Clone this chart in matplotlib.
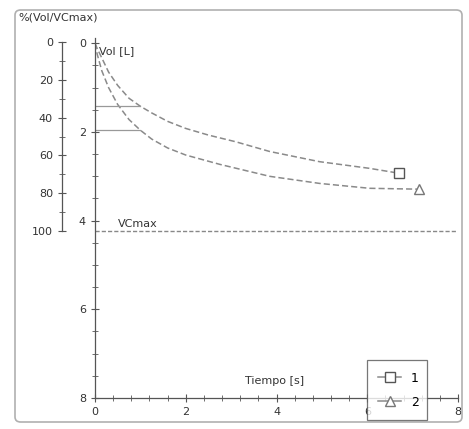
import matplotlib
matplotlib.use("Agg")
import matplotlib.pyplot as plt
from matplotlib.patches import FancyBboxPatch
from matplotlib.lines import Line2D
from matplotlib.ticker import MultipleLocator

# Curve 1 (square) and curve 2 (triangle): time [s] and volume [L]
t1 = [0, 0.05, 0.15, 0.3, 0.5, 0.75, 1.0, 1.25, 1.6, 2.0, 2.5, 3.1, 3.85, 4.95, 6.05, 6.7]
v1 = [0, 0.12, 0.33, 0.65, 0.95, 1.24, 1.42, 1.57, 1.76, 1.92, 2.07, 2.22, 2.44, 2.67, 2.82, 2.93]
t2 = [0, 0.05, 0.15, 0.3, 0.5, 0.75, 1.0, 1.25, 1.6, 2.0, 2.75, 3.85, 4.95, 6.05, 7.15]
v2 = [0, 0.25, 0.62, 1.0, 1.38, 1.72, 1.96, 2.16, 2.36, 2.52, 2.73, 3.0, 3.16, 3.27, 3.29]
fev1 = [1.42, 1.96]          # volume after 1 s
vc_max = 4.24                 # L
pct_ticks = [0, 20, 40, 60, 80, 100]
vol_ticks = [0, 2, 4, 6, 8]
time_ticks = [0, 2, 4, 6, 8]
labels = ["1", "2"]

ink = "#555555"
curve = "#8a8a8a"
plt.rcParams["font.family"] = "DejaVu Sans"
plt.rcParams["font.size"] = 8

fig = plt.figure(figsize=(4.69, 4.29), dpi=100)

# outer rounded frame
frame = FancyBboxPatch((15 / 469, 1 - 422 / 429), 447 / 469, 412 / 429,
                       boxstyle="round,pad=0,rounding_size=0.012",
                       transform=fig.transFigure, fill=False,
                       edgecolor="#b0b0b0", linewidth=1.2)
fig.patches.append(frame)

ax = fig.add_axes([95 / 469, 1 - 398 / 429, 363 / 469, 360 / 429])
ax.set_xlim(0, 8)
ax.set_ylim(8, -0.12)
for s in ["top", "right"]:
    ax.spines[s].set_visible(False)
for s in ["left", "bottom"]:
    ax.spines[s].set_color(ink)
    ax.spines[s].set_linewidth(0.9)
ax.set_xticks(time_ticks)
ax.set_yticks(vol_ticks)
ax.xaxis.set_minor_locator(MultipleLocator(0.4))
ax.yaxis.set_minor_locator(MultipleLocator(0.5))
ax.tick_params(which="both", direction="inout", color=ink, labelcolor="#333333")
ax.tick_params(which="major", length=6)
ax.tick_params(which="minor", length=4)

ax.plot(t1, v1, color=curve, lw=1.1, ls=(0, (4, 2)), marker="s", markevery=[-1],
        ms=7, mfc="white", mec="#555555")
ax.plot(t2, v2, color=curve, lw=1.1, ls=(0, (4, 2)), marker="^", markevery=[-1],
        ms=7, mfc="white", mec="#777777")
for v in fev1:
    ax.plot([0, 1], [v, v], color="#999999", lw=0.9)
ax.axhline(vc_max, color="#888888", lw=1.0, ls=(0, (3, 1.5)))
ax.text(0.5, vc_max - 0.05, "VCmax", color="#333333", ha="left", va="bottom")
ax.text(0.08, 0.18, "Vol [L]", color="#333333", ha="left", va="center")
ax.text(3.95, 7.62, "Tiempo [s]", color="#333333", ha="center", va="center")

# percent scale on the left
axp = fig.add_axes([62 / 469, 1 - 231 / 429, 0.001, 189 / 429])
axp.set_ylim(100, 0)
axp.set_xticks([])
for s in ["top", "right", "bottom"]:
    axp.spines[s].set_visible(False)
axp.spines["left"].set_color(ink)
axp.spines["left"].set_linewidth(0.9)
axp.set_yticks(pct_ticks)
axp.yaxis.set_minor_locator(MultipleLocator(10))
axp.tick_params(which="both", direction="inout", color=ink, labelcolor="#333333")
axp.tick_params(which="major", length=6)
axp.tick_params(which="minor", length=4)
axp.patch.set_visible(False)
fig.text(18 / 469, 1 - 17 / 429, "%(Vol/VCmax)", color="#333333", ha="left", va="center")

handles = [
    Line2D([], [], color=curve, lw=1.1, marker="s", ms=7, mfc="white", mec="#555555"),
    Line2D([], [], color=curve, lw=1.1, marker="^", ms=7, mfc="white", mec="#777777"),
]
leg = fig.legend(handles, labels, loc="lower left",
                 bbox_to_anchor=(367 / 469, 1 - 420 / 429, 60 / 469, 65 / 429),
                 mode="expand", fancybox=False, handlelength=1.8, fontsize=9,
                 borderaxespad=0, labelspacing=0.9, borderpad=0.9)
leg.get_frame().set_edgecolor(ink)
leg.get_frame().set_linewidth(0.9)

fig.savefig("out.png", dpi=100)
